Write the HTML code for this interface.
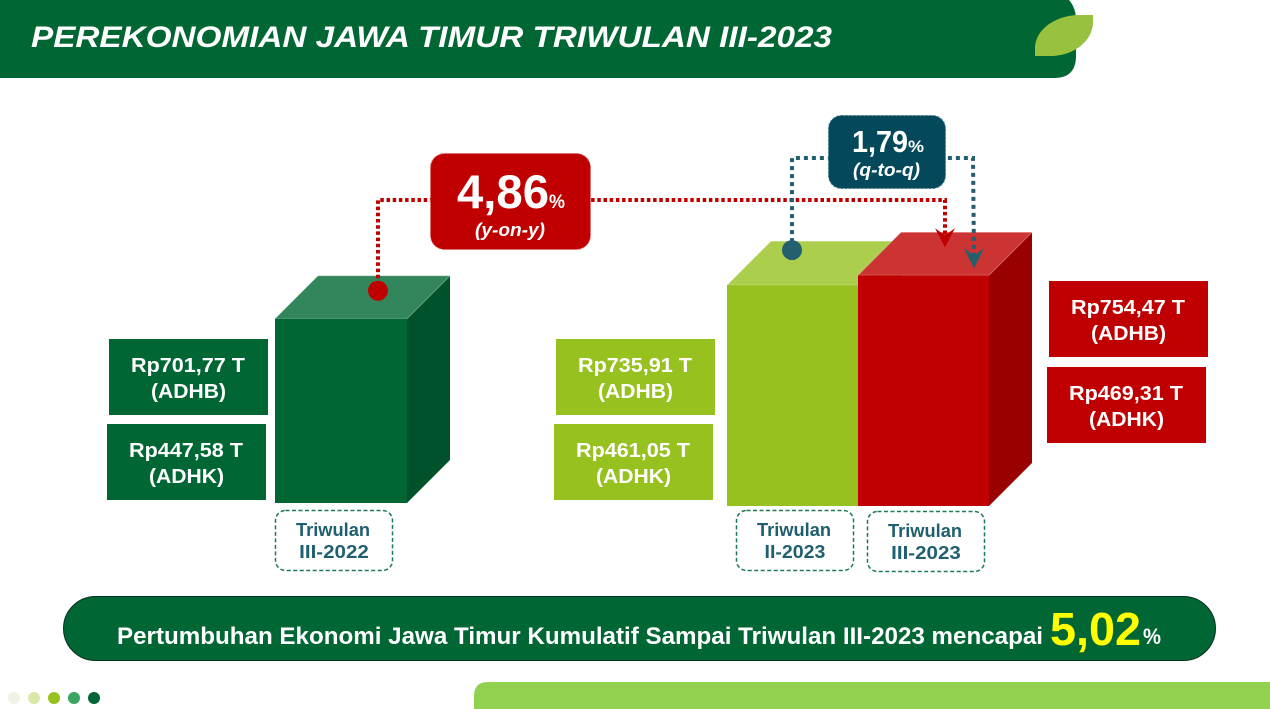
<!DOCTYPE html>
<html lang="id">
<head>
<meta charset="utf-8">
<title>Perekonomian Jawa Timur Triwulan III-2023</title>
<style>
html,body{margin:0;padding:0;background:#fff;width:1270px;height:709px;overflow:hidden}
svg{display:block}
text{font-family:"Liberation Sans","Noto Sans CJK SC",sans-serif;font-weight:700}
</style>
</head>
<body>
<svg id="chart" xmlns="http://www.w3.org/2000/svg" width="1270" height="709" viewBox="0 0 1270 709">
  <rect width="1270" height="709" fill="#ffffff"/>
  <path d="M0 0H1069Q1076 8 1076 20V56Q1076 78 1054 78H0Z" fill="#006633"/>
  <path d="M1093 15V22C1093 40 1075 56 1050 56H1035V48C1035 30 1055 15 1080 15Z" fill="#97c13f"/>
  <text x="31" y="47" font-size="30" font-style="italic" fill="#ffffff" textLength="801" lengthAdjust="spacingAndGlyphs">PEREKONOMIAN JAWA TIMUR TRIWULAN III-2023</text>
  <g id="bars"></g>
  <g id="labels"></g>
  <g id="connectors"></g>
  <rect x="63.5" y="596.5" width="1152" height="64" rx="32" fill="#006633" stroke="#06321f" stroke-width="1"/>
  <text x="117" y="644" font-size="24" fill="#ffffff" textLength="926" lengthAdjust="spacingAndGlyphs">Pertumbuhan Ekonomi Jawa Timur Kumulatif Sampai Triwulan III-2023 mencapai</text>
  <text id="cumulative" x="1050" y="645" font-size="46" fill="#ffff00" textLength="91" lengthAdjust="spacingAndGlyphs"></text>
  <text x="1143" y="644" font-size="22" fill="#ffffff" textLength="18" lengthAdjust="spacingAndGlyphs">%</text>
  <circle cx="14" cy="698" r="6" fill="#eef2e3"/>
  <circle cx="34" cy="698" r="6" fill="#d8e8a8"/>
  <circle cx="54" cy="698" r="6" fill="#96c11f"/>
  <circle cx="74" cy="698" r="6" fill="#38a560"/>
  <circle cx="94" cy="698" r="6" fill="#006633"/>
  <path d="M1270 682H488Q474 682 474 696V709H1270Z" fill="#92d050"/>
</svg>
<script>
// Data
const categories = ["III-2022", "II-2023", "III-2023"];
const adhbValues = [701.77, 735.91, 754.47];
const adhkValues = [447.58, 461.05, 469.31];
const yoyGrowth = 4.86;
const qtqGrowth = 1.79;
const cumulativeGrowth = 5.02;

const NS = "http://www.w3.org/2000/svg";
const idr = v => v.toFixed(2).replace(".", ",");

// Truncated, slightly uneven value axis of the original drawing (value -> bar height)
function heightAxis(v) {
  const d = [700, 736, 755], r = [182.4, 221, 231];
  const i = v < d[1] ? 0 : 1;
  return r[i] + (v - d[i]) * (r[i + 1] - r[i]) / (d[i + 1] - d[i]);
}
function baseAxis(i) { return i === 0 ? 503 : 506; }
function barLeft(i) { return i === 0 ? 275 : i === 1 ? 727 : 858; }
function barTop(i) { return baseAxis(i) - heightAxis(adhbValues[i]); }

function make(tag, attrs, parent, txt) {
  const el = document.createElementNS(NS, tag);
  for (const k in attrs) el.setAttribute(k, attrs[k]);
  if (txt !== undefined) el.textContent = txt;
  parent.appendChild(el);
  return el;
}

const barsG = document.getElementById("bars");
const labelsG = document.getElementById("labels");
const connG = document.getElementById("connectors");

const faceColors = [
  { front: "#006633", top: "#33855c", side: "#00522a" },
  { front: "#96c11f", top: "#abcf4d", side: "#7d9f19" },
  { front: "#c00000", top: "#cc3333", side: "#990000" }
];
const WIDTH = [132, 131, 131];
const DEPTH = [43, 44, 43];

[0, 1, 2].forEach(i => {
  const x = barLeft(i), w = WIDTH[i], d = DEPTH[i], t = barTop(i), b = baseAxis(i), c = faceColors[i];
  const side = make("polygon", { points: `${x+w},${t} ${x+w+d},${t-d} ${x+w+d},${b-d} ${x+w},${b}`, fill: c.side }, barsG);
  
  
  const top = make("polygon", { points: `${x},${t} ${x+d},${t-d} ${x+w+d},${t-d} ${x+w},${t}`, fill: c.top, stroke: "#ffffff", "stroke-opacity": 0.25, "stroke-width": 1 }, barsG);
  
  
  const front = make("rect", { x: x, y: t, width: w, height: b - t, fill: c.front }, barsG);
  
  
});

// Value label boxes
function valueBox(x, y, fill, amount, kind, tag) {
  const r = make("rect", { x: x, y: y, width: 159, height: 76, fill: fill }, labelsG);
  
  
  const t1 = make("text", { x: x + 22, y: y + 33, "font-size": 20, fill: "#fff", textLength: 114, lengthAdjust: "spacingAndGlyphs" }, labelsG, "Rp" + idr(amount) + " T");
  
  
  const t2 = make("text", { x: x + 42, y: y + 59, "font-size": 20, fill: "#fff", textLength: 75, lengthAdjust: "spacingAndGlyphs" }, labelsG, "(" + kind + ")");
  
  
}
valueBox(109, 339, "#006633", adhbValues[0], "ADHB", "adhb-2022");
valueBox(107, 424, "#006633", adhkValues[0], "ADHK", "adhk-2022");
valueBox(556, 339, "#96c11f", adhbValues[1], "ADHB", "adhb-q2-2023");
valueBox(554, 424, "#96c11f", adhkValues[1], "ADHK", "adhk-q2-2023");
valueBox(1049, 281, "#c00000", adhbValues[2], "ADHB", "adhb-q3-2023");
valueBox(1047, 367, "#c00000", adhkValues[2], "ADHK", "adhk-q3-2023");

// Category tags
function catTag(x, y, i) {
  const r = make("rect", { x: x + .5, y: y + .5, width: 117, height: 60, rx: 10, fill: "#fff", stroke: "#1b7a50", "stroke-width": 1.5, "stroke-dasharray": "4 2.5" }, labelsG);
  
  
  const a = make("text", { x: x + 21, y: y + 26, "font-size": 18, fill: "#1f5f70", textLength: 74, lengthAdjust: "spacingAndGlyphs" }, labelsG, "Triwulan");
  
  
  const b = make("text", { x: x + 59, y: y + 48, "font-size": 18, fill: "#1f5f70", "text-anchor": "middle", textLength: categories[i].length * 8.7, lengthAdjust: "spacingAndGlyphs" }, labelsG, categories[i]);
  
  
}
catTag(275, 510, 0);
catTag(736, 510, 1);
catTag(867, 511, 2);

// Connectors
const redTip = barTop(2) - 28, tealTip = barTop(2) - 7;
const redDotY = barTop(0) - 28, tealDotY = barTop(1) - 35;

const redLine = make("path", { d: `M378 ${redDotY}V200H945V${redTip-12}`, fill: "none", stroke: "#c00000", "stroke-width": 4, "stroke-dasharray": "3.5 2.7" }, connG);


const redDot = make("circle", { cx: 378, cy: redDotY, r: 10, fill: "#c00000" }, connG);


const redArrow = make("polygon", { points: `945,${redTip} 935,${redTip-19} 945,${redTip-12} 955,${redTip-19}`, fill: "#c00000" }, connG);



const tealLine = make("path", { d: `M792 ${tealDotY}V158H973L974 ${tealTip-12}`, fill: "none", stroke: "#245f6e", "stroke-width": 4, "stroke-dasharray": "4 4" }, connG);


const tealDot = make("circle", { cx: 792, cy: tealDotY, r: 10, fill: "#245f6e" }, connG);


const tealArrow = make("polygon", { points: `974,${tealTip} 964,${tealTip-20} 974,${tealTip-13} 984,${tealTip-20}`, fill: "#245f6e" }, connG);



// Growth callouts
const yoyBox = make("rect", { x: 430.5, y: 153.5, width: 160, height: 96, rx: 14, fill: "#c00000", stroke: "#e06a6a", "stroke-width": 1, "stroke-dasharray": "2 2" }, connG);


const yoyVal = make("text", { x: 457, y: 208, "font-size": 47, fill: "#fff", textLength: 92, lengthAdjust: "spacingAndGlyphs" }, connG, idr(yoyGrowth));


const yoyPct = make("text", { x: 549, y: 208, "font-size": 19, fill: "#fff", textLength: 16, lengthAdjust: "spacingAndGlyphs" }, connG, "%");


const yoyLbl = make("text", { x: 475, y: 236, "font-size": 18, "font-style": "italic", fill: "#fff", textLength: 70, lengthAdjust: "spacingAndGlyphs" }, connG, "(y-on-y)");



const qtqBox = make("rect", { x: 828.5, y: 115.5, width: 117, height: 73, rx: 13, fill: "#04485c", stroke: "#3f7f8f", "stroke-width": 1, "stroke-dasharray": "2 2" }, connG);


const qtqVal = make("text", { x: 852, y: 152, "font-size": 31, fill: "#fff", textLength: 56, lengthAdjust: "spacingAndGlyphs" }, connG, idr(qtqGrowth));


const qtqPct = make("text", { x: 908, y: 152, "font-size": 17, fill: "#fff", textLength: 16, lengthAdjust: "spacingAndGlyphs" }, connG, "%");


const qtqLbl = make("text", { x: 853, y: 176, "font-size": 18, "font-style": "italic", fill: "#fff", textLength: 67, lengthAdjust: "spacingAndGlyphs" }, connG, "(q-to-q)");



document.getElementById("cumulative").textContent = idr(cumulativeGrowth);
</script>
</body>
</html>
